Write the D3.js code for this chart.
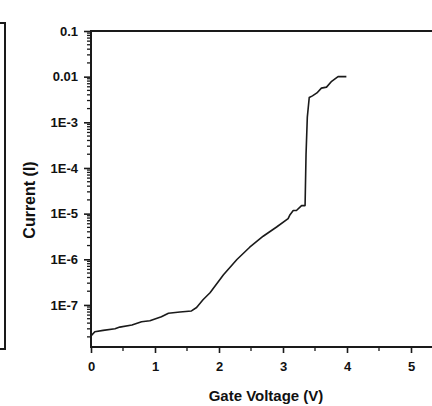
<!DOCTYPE html>
<html>
<head>
<meta charset="utf-8">
<script src="https://cdn.jsdelivr.net/npm/d3@7"></script>
<style>
  html, body { margin: 0; padding: 0; background: #fff; }
  svg { display: block; }
  text { font-family: "Liberation Sans", Arial, sans-serif; font-weight: bold; fill: #111; }
</style>
</head>
<body>
<svg id="chart" width="432" height="406"></svg>
<script>
// ---- data ----
const gateVoltage = [0, 0.06, 0.19, 0.375, 0.45, 0.64, 0.79, 0.92, 1.10, 1.21, 1.39, 1.57, 1.65, 1.75,
  1.86, 2.07, 2.28, 2.48, 2.69, 2.90, 3.08, 3.11, 3.16, 3.21, 3.29, 3.345, 3.36, 3.38, 3.41, 3.46,
  3.53, 3.60, 3.68, 3.76, 3.86, 3.99];
const current = [2.1e-8, 2.6e-8, 2.77e-8, 3.0e-8, 3.27e-8, 3.63e-8, 4.3e-8, 4.5e-8, 5.5e-8, 6.6e-8,
  7.0e-8, 7.4e-8, 8.8e-8, 1.3e-7, 1.85e-7, 4.6e-7, 9.9e-7, 1.84e-6, 3.2e-6, 5.1e-6, 7.8e-6, 9.5e-6,
  1.17e-5, 1.17e-5, 1.5e-5, 1.5e-5, 2.0e-4, 1.3e-3, 3.5e-3, 3.8e-3, 4.4e-3, 5.6e-3, 5.9e-3, 7.9e-3,
  0.01, 0.01];
const yTickValues = [0.1, 0.01, 1e-3, 1e-4, 1e-5, 1e-6, 1e-7];
const yTickLabels = ["0.1", "0.01", "1E-3", "1E-4", "1E-5", "1E-6", "1E-7"];
const xTickValues = [0, 1, 2, 3, 4, 5];
const xTickLabels = ["0", "1", "2", "3", "4", "5"];
const xTitle = "Gate Voltage (V)";
const yTitle = "Current (I)";

(function () {
// ---- layout ----
const svg = d3.select("#chart");
const mLeft = 91, mTop = 31, mBottom = 347;
const x = d3.scaleLinear().domain([0, 5.5]).range([mLeft, mLeft + 64 * 5.5]);
const y = d3.scaleLog().domain([1.2e-8, 0.1]).range([mBottom, mTop]);
const ink = "#1a1a1a";

// neighbouring panel border (cut off at left)
svg.append("path")
  .attr("d", `M0,23 H5 V349 H0`)
  .attr("fill", "none").attr("stroke", ink).attr("stroke-width", 2);

// minor y ticks
const yMinor = [];
for (let e = -9; e <= -2; e++) for (let k = 2; k <= 9; k++) {
  const v = k * Math.pow(10, e);
  if (v >= 1.2e-8 && v <= 0.1) yMinor.push(v);
}
svg.append("g").selectAll("line").data(yMinor).join("line")
  .attr("x1", mLeft - 4).attr("x2", mLeft)
  .attr("y1", d => y(d)).attr("y2", d => y(d))
  .attr("stroke", ink).attr("stroke-width", 1.3);

// y axis
const yAxis = d3.axisLeft(y).tickValues(yTickValues)
  .tickFormat((d, i) => yTickLabels[i]).tickSize(7).tickPadding(6);
const gy = svg.append("g").attr("transform", `translate(${mLeft},0)`).call(yAxis);
gy.select(".domain").remove();
gy.selectAll(".tick line").attr("stroke", ink).attr("stroke-width", 1.6);
gy.selectAll(".tick text").attr("font-size", 13).attr("font-family", "Liberation Sans, Arial, sans-serif")
  .attr("font-weight", "bold").attr("fill", "#111");

// x minor ticks
const xMinor = [0.5, 1.5, 2.5, 3.5, 4.5];
svg.append("g").selectAll("line").data(xMinor).join("line")
  .attr("x1", d => x(d)).attr("x2", d => x(d))
  .attr("y1", mBottom).attr("y2", mBottom + 4)
  .attr("stroke", ink).attr("stroke-width", 1.3);

// x axis
const xAxis = d3.axisBottom(x).tickValues(xTickValues)
  .tickFormat((d, i) => xTickLabels[i]).tickSize(6).tickPadding(9);
const gx = svg.append("g").attr("transform", `translate(0,${mBottom})`).call(xAxis);
gx.select(".domain").remove();
gx.selectAll(".tick line").attr("stroke", ink).attr("stroke-width", 1.6);
gx.selectAll(".tick text").attr("font-size", 13).attr("font-family", "Liberation Sans, Arial, sans-serif")
  .attr("font-weight", "bold").attr("fill", "#111");

// frame: left, bottom, top (right is off-image)
svg.append("path")
  .attr("d", `M${x.range()[1]},${mTop} H${mLeft} V${mBottom} H${x.range()[1]}`)
  .attr("fill", "none").attr("stroke", ink).attr("stroke-width", 2);

// curve
const line = d3.line().x(d => x(d[0])).y(d => y(d[1]));
svg.append("path")
  .datum(gateVoltage.map((v, i) => [v, current[i]]))
  .attr("d", line)
  .attr("fill", "none").attr("stroke", ink).attr("stroke-width", 1.6)
  .attr("stroke-linejoin", "round");

// titles
svg.append("text").attr("x", 266).attr("y", 401).attr("text-anchor", "middle")
  .attr("font-size", 15).text(xTitle);
svg.append("text").attr("transform", "translate(35,200) rotate(-90)").attr("text-anchor", "middle")
  .attr("font-size", 16).text(yTitle);
})();
</script>
</body>
</html>
